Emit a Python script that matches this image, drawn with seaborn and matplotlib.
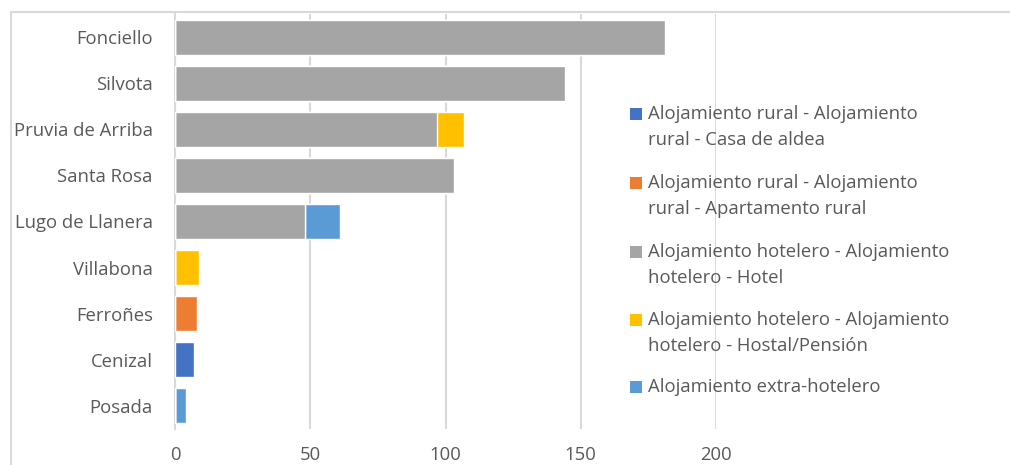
import matplotlib
matplotlib.use("Agg")
import matplotlib.pyplot as plt
from matplotlib.patches import Rectangle
from matplotlib.lines import Line2D
import seaborn as sns
import pandas as pd
import numpy as np

categories = ["Fonciello", "Silvota", "Pruvia de Arriba", "Santa Rosa", "Lugo de Llanera",
              "Villabona", "Ferroñes", "Cenizal", "Posada"]
rural_casa = [0, 0, 0, 0, 0, 0, 0, 7, 0]
rural_apart = [0, 0, 0, 0, 0, 0, 8, 0, 0]
hotel = [181, 144, 97, 103, 48, 0, 0, 0, 0]
hostal = [0, 0, 10, 0, 0, 9, 0, 0, 0]
extra = [0, 0, 0, 0, 13, 0, 0, 0, 4]

series_names = [
    ["Alojamiento rural - Alojamiento", "rural - Casa de aldea"],
    ["Alojamiento rural - Alojamiento", "rural - Apartamento rural"],
    ["Alojamiento hotelero - Alojamiento", "hotelero - Hotel"],
    ["Alojamiento hotelero - Alojamiento", "hotelero - Hostal/Pensión"],
    ["Alojamiento extra-hotelero"],
]
colors = ["#4472C4", "#ED7D31", "#A5A5A5", "#FFC000", "#5B9BD5"]
xticks = [0, 50, 100, 150, 200]

sns.set_theme(style="white")
plt.rcParams["font.family"] = ["Open Sans", "DejaVu Sans"]
TXT = "#595959"
GRID = "#D9D9D9"
FS = 13.3

W, H = 1010, 465
fig = plt.figure(figsize=(W / 100, H / 100), dpi=100)
ax = fig.add_axes([175 / W, (H - 429) / H, (716 - 175) / W, (429 - 14) / H])

series = [rural_casa, rural_apart, hotel, hostal, extra]
cum = np.cumsum(np.array(series, dtype=float), axis=0)
# draw cumulative totals from outermost to innermost
for i in range(len(series) - 1, -1, -1):
    df = pd.DataFrame({"cat": categories, "val": cum[i]})
    sns.barplot(data=df, x="val", y="cat", orient="h", color=colors[i],
                saturation=1, width=0.76, ax=ax, zorder=3)

ax.set_xlim(0, 200)
ax.set_xticks(xticks)
ax.set_xlabel("")
ax.set_ylabel("")
ax.grid(axis="x", color=GRID, linewidth=1.5, zorder=0)
ax.set_axisbelow(True)
for s in ["top", "right", "bottom"]:
    ax.spines[s].set_visible(False)
ax.spines["left"].set_color(GRID)
ax.spines["left"].set_linewidth(1.5)
ax.tick_params(axis="both", length=0, colors=TXT, labelsize=FS)
ax.tick_params(axis="y", pad=16)
ax.tick_params(axis="x", pad=12)

# chart-area border (partially visible)
fig.add_artist(Line2D([11 / W, 11 / W], [0, (H - 12) / H], transform=fig.transFigure,
                      color=GRID, linewidth=1.5))
fig.add_artist(Line2D([11 / W, 1], [(H - 12) / H, (H - 12) / H], transform=fig.transFigure,
                      color=GRID, linewidth=1.5))

# legend
first_y = [114, 183, 252, 320, 387]
for name, col, y0 in zip(series_names, colors, first_y):
    fig.add_artist(Rectangle((630 / W, (H - y0 - 6) / H), 12 / W, 12 / H,
                             transform=fig.transFigure, color=col, linewidth=0))
    for k, line in enumerate(name):
        fig.text(648 / W, (H - (y0 + 26 * k)) / H, line, color=TXT, fontsize=FS,
                 va="center", ha="left")

fig.savefig("out.png", dpi=100)
